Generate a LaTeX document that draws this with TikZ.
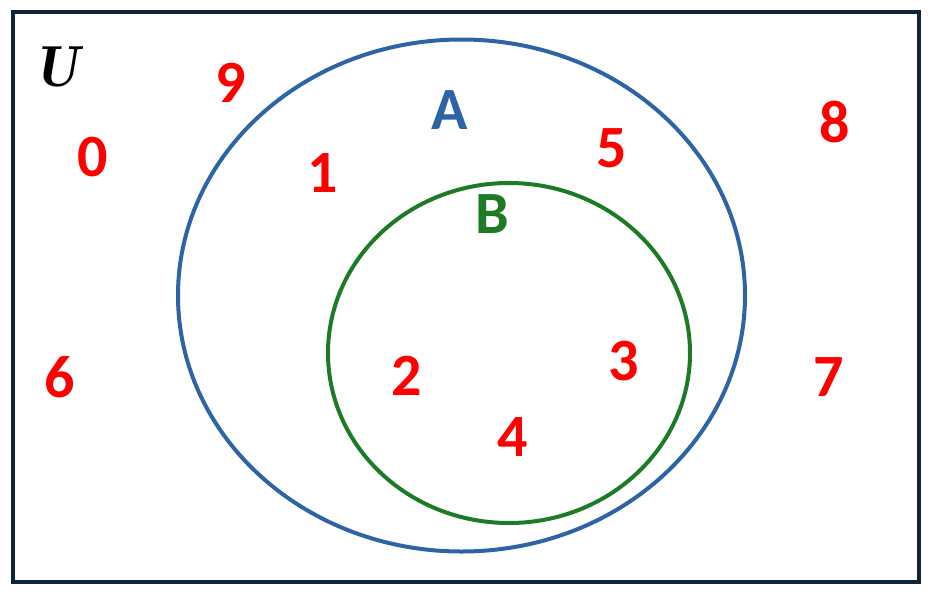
\documentclass[tikz,border=0pt]{standalone}
\usepackage{fontspec}
\setmainfont{Carlito}
\definecolor{frameC}{HTML}{10243A}
\definecolor{setA}{HTML}{2D64A6}
\definecolor{setB}{HTML}{1E7B25}
\definecolor{elemC}{HTML}{FF0000}
\begin{document}
\begin{tikzpicture}[x=1pt,y=-1pt,
  elem/.style={text=elemC,font=\fontsize{60}{60}\selectfont\bfseries,inner sep=0pt,anchor=base},
  setlabel/.style={font=\fontsize{60}{60}\selectfont\bfseries,inner sep=0pt,anchor=base}]
\useasboundingbox (0,0) rectangle (932,595);
\draw[frameC,line width=4.5pt] (13,12) rectangle (919,582);
\draw[setA,line width=4pt] (461.5,295.5) ellipse [x radius=283.5, y radius=256];
\draw[setB,line width=4pt] (509,353) ellipse [x radius=181, y radius=170];
\node[inner sep=0pt,anchor=base,font=\fontfamily{lmr}\fontsize{58}{58}\selectfont\bfseries\itshape] (U) at (57,86) {U};
\node[setlabel,text=setA] (A) at (449.5,129) {A};
\node[setlabel,text=setB] (B) at (492.5,233.5) {B};
\node[elem] (n9) at (231,102) {9};
\node[elem] (n0) at (93,176) {0};
\node[elem] (n1) at (323,192) {1};
\node[elem] (n5) at (612,167) {5};
\node[elem] (n8) at (835,142) {8};
\node[elem] (n6) at (60,397) {6};
\node[elem] (n2) at (407,395.5) {2};
\node[elem] (n3) at (623.5,380) {3};
\node[elem] (n7) at (829,396.5) {7};
\node[elem] (n4) at (513,456.5) {4};
\end{tikzpicture}
\end{document}
